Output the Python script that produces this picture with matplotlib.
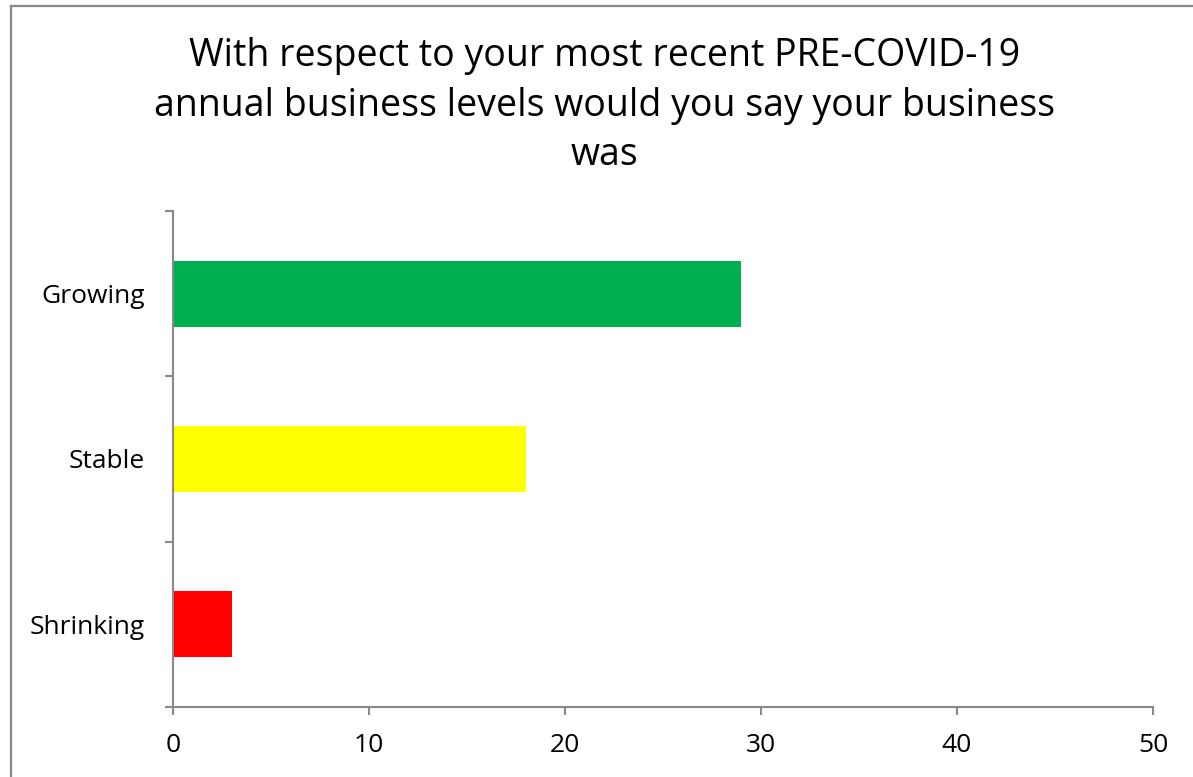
import numpy as np
import matplotlib.pyplot as plt
from matplotlib.lines import Line2D

# Survey answers
CATEGORIES = ["Shrinking", "Stable", "Growing"]
COUNTS = [3, 18, 29]
COLORS = ["#ff0000", "#ffff00", "#00b050"]
X_TICKS = [0, 10, 20, 30, 40, 50]

TITLE = ("With respect to your most recent PRE-COVID-19\n"
         "annual business levels would you say your business\n"
         "was")

plt.rcParams['font.family'] = ['Open Sans', 'DejaVu Sans']

FIG = plt.figure(figsize=(11.93, 7.77), dpi=100)
AX = FIG.add_axes([173 / 1193, 70 / 777, 980 / 1193, 496 / 777])

y_pos = np.arange(len(CATEGORIES))
AX.barh(y_pos, COUNTS, height=0.4, color=COLORS)

AX.set_xlim(0, 50)
AX.set_ylim(-0.5, len(CATEGORIES) - 0.5)
AX.set_xticks(X_TICKS)
AX.set_yticks(y_pos)
AX.set_yticklabels(CATEGORIES)
AX.set_yticks(np.arange(-0.5, len(CATEGORIES)), minor=True)

spine_col = "#898989"
for side in ["top", "right"]:
    AX.spines[side].set_visible(False)
for side in ["left", "bottom"]:
    AX.spines[side].set_color(spine_col)
    AX.spines[side].set_linewidth(1.5)

AX.tick_params(axis="x", length=6, width=1.5, color=spine_col, pad=13,
               labelsize=19)
AX.tick_params(axis="y", which="major", length=0, pad=28 * 0.72,
               labelsize=19)
AX.tick_params(axis="y", which="minor", length=6, width=1.5,
               color=spine_col)

FIG.text(0.507, 1 - 37 / 777, TITLE, ha="center", va="top", fontsize=27,
         linespacing=1.4)

# outer chart frame (cut off on the right and bottom)
FIG.add_artist(Line2D([11 / 1193, 11 / 1193], [0, 1 - 6 / 777],
                      transform=FIG.transFigure, color=spine_col, lw=1.6))
FIG.add_artist(Line2D([11 / 1193, 1], [1 - 6 / 777, 1 - 6 / 777],
                      transform=FIG.transFigure, color=spine_col, lw=1.6))

FIG.savefig("out.png", dpi=100)
